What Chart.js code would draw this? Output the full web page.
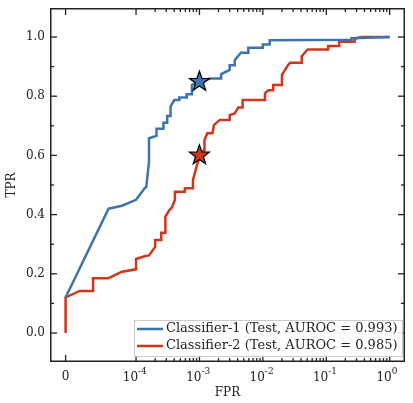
<!DOCTYPE html>
<html><head><meta charset="utf-8">
<script src="https://cdn.jsdelivr.net/npm/chart.js@4"></script>
<style>html,body{margin:0;padding:0;background:#fff}#w{width:413px;height:403px}</style>
</head><body><div id="w"><canvas id="c"></canvas></div>
<script>
const fpr1=[0,6.1e-5,8e-5,1e-4,1.38e-4,1.45e-4,1.6e-4,1.6e-4,2.1e-4,2.1e-4,2.7e-4,2.7e-4,3.1e-4,3.1e-4,3.5e-4,3.5e-4,4.0e-4,4.8e-4,4.8e-4,6.3e-4,6.3e-4,7.6e-4,7.6e-4,9.6e-4,1.5e-3,2.2e-3,2.2e-3,3.0e-3,3.0e-3,3.6e-3,3.6e-3,4.5e-3,5.9e-3,5.9e-3,0.01,0.01,0.0128,0.0128,0.25,0.25,1];
const tpr1=[0.12,0.42,0.43,0.45,0.49,0.493,0.579,0.658,0.666,0.69,0.69,0.71,0.71,0.733,0.733,0.765,0.787,0.787,0.796,0.796,0.807,0.807,0.838,0.849,0.86,0.86,0.875,0.889,0.905,0.905,0.922,0.947,0.947,0.964,0.964,0.975,0.975,0.989,0.991,0.996,1.0];
const fpr2=[0,0,2.0e-5,3.9e-5,3.9e-5,6.1e-5,8e-5,1e-4,1e-4,1.4e-4,1.6e-4,2.0e-4,2.0e-4,2.5e-4,2.5e-4,2.9e-4,2.9e-4,3.3e-4,3.7e-4,4.1e-4,4.1e-4,5.9e-4,5.9e-4,7.9e-4,7.9e-4,9.0e-4,1.02e-3,1.18e-3,1.2e-3,1.33e-3,1.6e-3,1.7e-3,2.1e-3,3.0e-3,3.0e-3,3.6e-3,4.1e-3,4.8e-3,4.8e-3,7.6e-3,0.0108,0.0108,0.0122,0.0146,0.0146,0.02,0.02,0.0224,0.025,0.027,0.041,0.041,0.045,0.051,0.107,0.107,0.16,0.16,0.28,0.28,0.36,1];
const tpr2=[0,0.12,0.142,0.142,0.185,0.185,0.207,0.215,0.25,0.26,0.262,0.291,0.314,0.314,0.339,0.339,0.393,0.413,0.425,0.45,0.477,0.477,0.489,0.489,0.517,0.563,0.596,0.618,0.652,0.675,0.675,0.703,0.72,0.72,0.736,0.742,0.762,0.762,0.787,0.787,0.787,0.81,0.82,0.82,0.838,0.838,0.872,0.889,0.905,0.913,0.913,0.934,0.945,0.958,0.958,0.97,0.97,0.984,0.984,0.994,1.0,1.0];
const starFpr=[1e-3,1e-3];
const starTpr=[0.849,0.6];
const seriesNames=['Classifier-1 (Test, AUROC = 0.993)','Classifier-2 (Test, AUROC = 0.985)'];
const colors=['#3d74ad','#d0361c'];
const yTicks=[0.0,0.2,0.4,0.6,0.8,1.0];
const xTickExp=[-4,-3,-2,-1,0];

const LIN=1e-4, LS=1/(1-0.1);
function tx(v){return v<=LIN? LS*v/LIN : LS+Math.log10(v/LIN);}
const pts=(f,t)=>f.map((v,i)=>({x:tx(v),y:t[i]}));

const FONT='"DejaVu Serif", serif';
const deco={id:'deco',afterDraw(ch){
  const c=ch.ctx,a=ch.chartArea,xs=ch.scales.x,ys=ch.scales.y;
  c.save();
  starFpr.forEach((f,i)=>{
    const px=xs.getPixelForValue(tx(f)),py=ys.getPixelForValue(starTpr[i]);
    c.beginPath();
    for(let k=0;k<10;k++){const r=k%2?4.2:10.5,an=-Math.PI/2+k*Math.PI/5;
      const X=px+r*Math.cos(an),Y=py+r*Math.sin(an);k?c.lineTo(X,Y):c.moveTo(X,Y);}
    c.closePath();c.fillStyle=colors[i];c.fill();c.lineWidth=1.2;c.strokeStyle='#000';c.stroke();
  });
  c.strokeStyle='#222';c.lineWidth=1.5;
  c.strokeRect(a.left+0.75,a.top+0.75,a.right-a.left-1.5,a.bottom-a.top-1.5);
  c.lineWidth=1.3;
  const tick=(x1,y1,x2,y2)=>{c.beginPath();c.moveTo(x1,y1);c.lineTo(x2,y2);c.stroke();};
  for(let k=-1;k<=11;k++){const v=k/10,py=ys.getPixelForValue(v);
    if(py<a.top||py>a.bottom)continue;const L=(k%2==0)?7:4;
    tick(a.left,py,a.left+L,py);tick(a.right,py,a.right-L,py);}
  const majors=[0].concat(xTickExp.map(e=>Math.pow(10,e)));
  majors.forEach(v=>{const px=xs.getPixelForValue(tx(v));tick(px,a.bottom,px,a.bottom-7);tick(px,a.top,px,a.top+7);});
  for(let e=-4;e<0;e++)for(let m=2;m<10;m++){const px=xs.getPixelForValue(tx(m*Math.pow(10,e)));
    tick(px,a.bottom,px,a.bottom-4);tick(px,a.top,px,a.top+4);}
  c.fillStyle='#222';c.font='12px '+FONT;c.textAlign='right';c.textBaseline='middle';
  yTicks.forEach(v=>c.fillText(v.toFixed(1),a.left-5,ys.getPixelForValue(v)));
  c.textAlign='center';c.textBaseline='alphabetic';
  c.fillText('0',xs.getPixelForValue(0),a.bottom+18);
  xTickExp.forEach(e=>{const px=xs.getPixelForValue(tx(Math.pow(10,e)));
    c.font='12px '+FONT;c.textAlign='right';c.fillText('10',px+2,a.bottom+19);
    c.font='9px '+FONT;c.textAlign='left';c.fillText(String(e),px+2,a.bottom+12);});
  c.font='12px '+FONT;c.textAlign='center';
  c.fillText('FPR',(a.left+a.right)/2,a.bottom+34);
  c.save();c.translate(15,(a.top+a.bottom)/2);c.rotate(-Math.PI/2);c.fillText('TPR',0,0);c.restore();
  const lx=134,ly=320,lw=a.right-3-lx,lh=36;
  c.fillStyle='rgba(255,255,255,0.85)';c.fillRect(lx,ly,lw,lh);
  c.strokeStyle='#ccc';c.lineWidth=1;c.strokeRect(lx+0.5,ly+0.5,lw,lh);
  seriesNames.forEach((n,i)=>{const yy=ly+9+i*17;
    c.strokeStyle=colors[i];c.lineWidth=2.5;tick(lx+3,yy,lx+29,yy);
    c.fillStyle='#222';c.font='13px '+FONT;c.textAlign='left';c.textBaseline='middle';c.fillText(n,lx+32,yy);});
  c.restore();
}};
new Chart(document.getElementById('c'),{
  type:'line',
  data:{datasets:[
    {data:pts(fpr1,tpr1),borderColor:colors[0],borderWidth:2.5,pointRadius:0,fill:false,tension:0},
    {data:pts(fpr2,tpr2),borderColor:colors[1],borderWidth:2.5,pointRadius:0,fill:false,tension:0}]},
  options:{responsive:true,maintainAspectRatio:false,animation:false,
    layout:{padding:{left:50,right:8,top:8,bottom:41}},
    plugins:{legend:{display:false},tooltip:{enabled:false}},
    scales:{x:{type:'linear',display:false,min:-0.246,max:5.353},
            y:{type:'linear',display:false,min:-0.098,max:1.098}}},
  plugins:[deco]
});
</script></body></html>
